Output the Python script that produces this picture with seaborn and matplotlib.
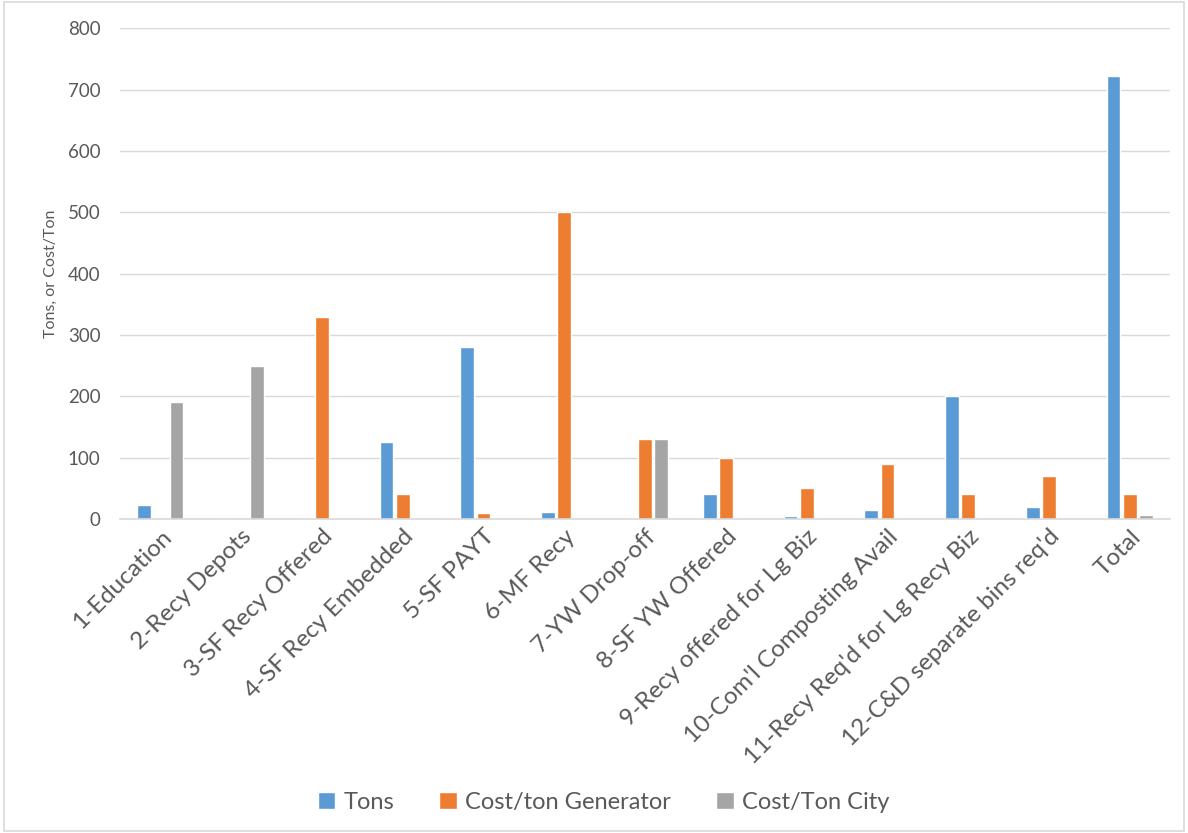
import matplotlib
matplotlib.use("Agg")
import matplotlib.pyplot as plt
import seaborn as sns
import pandas as pd
from matplotlib.patches import Rectangle

categories = [
    "1-Education", "2-Recy Depots", "3-SF Recy Offered", "4-SF Recy Embedded",
    "5-SF PAYT", "6-MF Recy", "7-YW Drop-off", "8-SF YW Offered",
    "9-Recy offered for Lg Biz", "10-Com'l Composting Avail",
    "11-Recy Req'd for Lg Recy Biz", "12-C&D separate bins req'd", "Total",
]
tons = [22, 2, 1, 126, 280, 12, 1, 40, 5, 15, 200, 20, 722]
cost_generator = [0, 0, 330, 40, 10, 500, 130, 100, 50, 90, 40, 70, 40]
cost_city = [190, 250, 0, 0, 0, 0, 130, 0, 0, 0, 0, 0, 6]
series_names = ["Tons", "Cost/ton Generator", "Cost/Ton City"]
colors = ["#5B9BD5", "#ED7D31", "#A5A5A5"]
yticks = [0, 100, 200, 300, 400, 500, 600, 700, 800]

rows = []
for name, vals in zip(series_names, [tons, cost_generator, cost_city]):
    for c, v in zip(categories, vals):
        rows.append({"category": c, "series": name, "value": v})
df = pd.DataFrame(rows)

sns.set_style("white")
plt.rcParams["font.family"] = ["Lato", "DejaVu Sans"]
text_color = "#595959"

fig = plt.figure(figsize=(11.88, 8.33), dpi=100)
ax = fig.add_axes([0.101, 0.377, 0.884, 0.589])

sns.barplot(data=df, x="category", y="value", hue="series", order=categories,
            hue_order=series_names, palette=colors, width=0.6, gap=0.15,
            saturation=1, ax=ax, legend=True)

ax.set_ylim(0, 800)
ax.set_yticks(yticks)
ax.set_xlim(-0.5, len(categories) - 0.5)
ax.yaxis.grid(True, color="#D9D9D9", linewidth=1)
ax.set_axisbelow(True)
for s in ["top", "right", "left"]:
    ax.spines[s].set_visible(False)
ax.spines["bottom"].set_color("#D9D9D9")
ax.spines["bottom"].set_linewidth(1.2)
ax.tick_params(axis="y", length=0, labelsize=13.5, labelcolor=text_color, pad=14)
ax.tick_params(axis="x", length=0, labelsize=17.5, labelcolor=text_color, pad=5)
ax.set_xticks(range(len(categories)))
ax.set_xticklabels(categories, rotation=45, ha="right", rotation_mode="anchor")
ax.set_xlabel("")
ax.set_ylabel("Tons, or Cost/Ton", fontsize=11.5, color=text_color, labelpad=7)

leg = ax.legend(loc="center", bbox_to_anchor=(0.508, 0.037), bbox_transform=fig.transFigure,
                ncol=3, frameon=False, fontsize=17, handlelength=0.75, handleheight=0.75,
                handletextpad=0.35, columnspacing=1.9)
for t in leg.get_texts():
    t.set_color(text_color)

fig.patches.append(Rectangle((0.003, 0.003), 0.994, 0.994, transform=fig.transFigure,
                             fill=False, edgecolor="#D9D9D9", linewidth=1.2))

fig.savefig("out.png", dpi=100, facecolor="white")
